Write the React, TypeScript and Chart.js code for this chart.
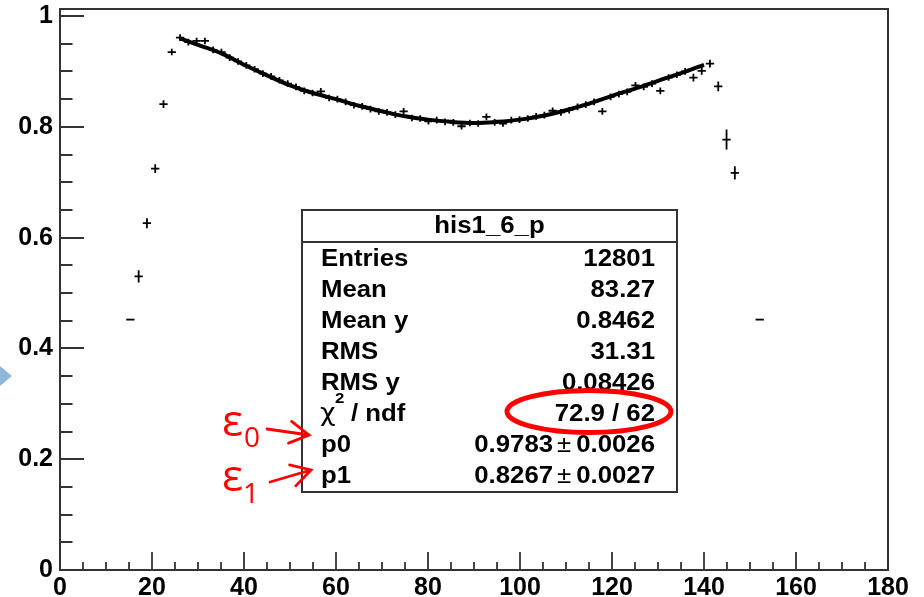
import React, { useEffect, useRef } from 'react';
import { Chart, registerables } from 'chart.js';

Chart.register(...registerables);

// ---- data (bin centres of 1.8-wide bins) ----
const binCenters = [
  15.3, 17.1, 18.9, 20.7, 22.5, 24.3,
  26.1, 27.9, 29.7, 31.5, 33.3, 35.1, 36.9, 38.7, 40.5, 42.3, 44.1, 45.9, 47.7, 49.5,
  51.3, 53.1, 54.9, 56.7, 58.5, 60.3, 62.1, 63.9, 65.7, 67.5, 69.3, 71.1, 72.9, 74.7,
  76.5, 78.3, 80.1, 81.9, 83.7, 85.5, 87.3, 89.1, 90.9, 92.7, 94.5, 96.3, 98.1, 99.9,
  101.7, 103.5, 105.3, 107.1, 108.9, 110.7, 112.5, 114.3, 116.1, 117.9, 119.7, 121.5,
  123.3, 125.1, 126.9, 128.7, 130.5, 132.3, 134.1, 135.9, 137.7, 139.5,
  141.3, 143.1, 144.9, 146.7, 152.1,
];
const efficiency = [
  0.452, 0.530, 0.626, 0.7245, 0.841, 0.935,
  0.961, 0.953, 0.955, 0.955, 0.939, 0.935, 0.925, 0.918, 0.911, 0.904, 0.896, 0.891, 0.884, 0.878,
  0.872, 0.865, 0.861, 0.864, 0.852, 0.850, 0.845, 0.839, 0.837, 0.832, 0.828, 0.826, 0.822, 0.828,
  0.816, 0.815, 0.810, 0.812, 0.809, 0.808, 0.801, 0.807, 0.806, 0.818, 0.808, 0.806, 0.812, 0.813,
  0.815, 0.819, 0.821, 0.829, 0.826, 0.830, 0.836, 0.840, 0.845, 0.828, 0.854, 0.859,
  0.863, 0.875, 0.872, 0.878, 0.865, 0.889, 0.894, 0.900, 0.889, 0.901,
  0.914, 0.873, 0.777, 0.717, 0.452,
];
const efficiencyErr = [
  0, 0.011, 0.009, 0.008, 0.007, 0.006,
  0.006, 0.006, 0.006, 0.006, 0.006, 0.006, 0.006, 0.006, 0.006, 0.006, 0.006, 0.006, 0.006, 0.006,
  0.006, 0.006, 0.006, 0.006, 0.006, 0.006, 0.006, 0.006, 0.006, 0.006, 0.006, 0.006, 0.006, 0.006,
  0.006, 0.006, 0.006, 0.006, 0.006, 0.006, 0.006, 0.006, 0.006, 0.006, 0.006, 0.006, 0.006, 0.006,
  0.006, 0.006, 0.006, 0.006, 0.006, 0.006, 0.006, 0.006, 0.006, 0.006, 0.006, 0.006,
  0.006, 0.006, 0.006, 0.006, 0.006, 0.006, 0.006, 0.006, 0.007, 0.007,
  0.007, 0.009, 0.018, 0.012, 0,
];
const binHalfWidth = 0.9;

const fitX = [26, 30, 35, 40, 45, 50, 55, 60, 65, 70, 75, 80, 85, 90, 95, 100, 105, 110, 115, 120, 125, 130, 135, 140];
const fitY = [0.960, 0.948, 0.933, 0.912, 0.893, 0.875, 0.861, 0.850, 0.838, 0.828, 0.819, 0.813, 0.809, 0.807, 0.809, 0.813, 0.820, 0.830, 0.842, 0.856, 0.869, 0.883, 0.897, 0.912];

const X_MIN = 0;
const X_MAX = 180;
const Y_MIN = 0;
const Y_MAX = 1.0127;
const xMajorTicks = [0, 20, 40, 60, 80, 100, 120, 140, 160, 180];
const xTickLabels = ['0', '20', '40', '60', '80', '100', '120', '140', '160', '180'];
const yMajorTicks = [0, 0.2, 0.4, 0.6, 0.8, 1.0];
const yTickLabels = ['0', '0.2', '0.4', '0.6', '0.8', '1'];

const statsTitle = 'his1_6_p';
const statLabels = ['Entries', 'Mean', 'Mean y', 'RMS', 'RMS y', 'χ² / ndf', 'p0', 'p1'];
const statValues = ['12801', '83.27', '0.8462', '31.31', '0.08426', '72.9 / 62', '0.9783 ± 0.0026', '0.8267 ± 0.0027'];
const paramNames = ['ε', 'ε'];
const paramSubs = ['0', '1'];

const FONT = "'Liberation Sans', Arial, Helvetica, sans-serif";
const SX = 1.12;

function txt(ctx: CanvasRenderingContext2D, s: string, x: number, y: number, font: string, align: CanvasTextAlign) {
  ctx.save();
  ctx.font = font;
  ctx.translate(x, y);
  ctx.scale(SX, 1);
  ctx.textAlign = align;
  ctx.textBaseline = 'alphabetic';
  ctx.fillText(s, 0, 0);
  ctx.restore();
}
function tw(ctx: CanvasRenderingContext2D, s: string, font: string) {
  ctx.save();
  ctx.font = font;
  const w = ctx.measureText(s).width * SX;
  ctx.restore();
  return w;
}

function arrow(ctx: CanvasRenderingContext2D, x0: number, y0: number, x1: number, y1: number) {
  const a = Math.atan2(y1 - y0, x1 - x0);
  const hl = 22;
  const ha = 0.52;
  ctx.beginPath();
  ctx.moveTo(x0, y0);
  ctx.lineTo(x1, y1);
  ctx.moveTo(x1 - hl * Math.cos(a - ha), y1 - hl * Math.sin(a - ha));
  ctx.lineTo(x1, y1);
  ctx.lineTo(x1 - hl * Math.cos(a + ha), y1 - hl * Math.sin(a + ha));
  ctx.stroke();
}

const rootPlugin = {
  id: 'rootStyle',
  afterDatasetsDraw(chart: any) {
    const { ctx, chartArea, scales } = chart;
    const xs = scales.x;
    const ys = scales.y;
    // error-bar crosses
    const ds = chart.data.datasets[1];
    ctx.save();
    ctx.strokeStyle = '#000';
    ctx.lineWidth = 1.8;
    ds.data.forEach((p: any) => {
      const px = xs.getPixelForValue(p.x);
      const py = ys.getPixelForValue(p.y);
      ctx.beginPath();
      ctx.moveTo(xs.getPixelForValue(p.x - binHalfWidth), py);
      ctx.lineTo(xs.getPixelForValue(p.x + binHalfWidth), py);
      if (p.err > 0) {
        ctx.moveTo(px, ys.getPixelForValue(p.y - p.err));
        ctx.lineTo(px, ys.getPixelForValue(p.y + p.err));
      }
      ctx.stroke();
    });
    ctx.restore();

    // frame and inward ticks
    const { left, right, top, bottom } = chartArea;
    ctx.save();
    ctx.strokeStyle = '#333';
    ctx.lineWidth = 2;
    ctx.strokeRect(left, top, right - left, bottom - top);
    ctx.lineWidth = 1.8;
    ctx.beginPath();
    for (let i = 0; i <= 20; i++) {
      const v = i * 0.05;
      const major = i % 4 === 0;
      const py = Math.round(ys.getPixelForValue(v));
      ctx.moveTo(left, py);
      ctx.lineTo(left + (major ? 24 : 12.5), py);
    }
    for (let i = 0; i <= 36; i++) {
      const v = i * 5;
      const major = i % 4 === 0;
      const px = Math.round(xs.getPixelForValue(v));
      ctx.moveTo(px, bottom);
      ctx.lineTo(px, bottom - (major ? 18 : 8));
    }
    ctx.stroke();
    ctx.restore();
  },
  afterDraw(chart: any) {
    const { ctx } = chart;
    ctx.save();
    // stats box
    const bx = 302, by = 210, bw = 375, bh = 282;
    ctx.fillStyle = '#fff';
    ctx.fillRect(bx, by, bw, bh);
    ctx.strokeStyle = '#333';
    ctx.lineWidth = 2;
    ctx.strokeRect(bx, by, bw, bh);
    ctx.beginPath();
    ctx.moveTo(bx, 242);
    ctx.lineTo(bx + bw, 242);
    ctx.stroke();
    ctx.fillStyle = '#000';
    const bold = `bold 23px ${FONT}`;
    const norm = `23px ${FONT}`;
    txt(ctx, statsTitle, bx + bw / 2, 232.5, bold, 'center');
    const lx = 321, rx = 655;
    statLabels.forEach((lab, i) => {
      const base = 265.7 + 31 * i;
      if (lab.startsWith('χ')) {
        txt(ctx, 'χ', lx - 1, base, `24px 'DejaVu Sans', ${FONT}`, 'left');
        txt(ctx, '2', 335, base - 18, `bold 15px ${FONT}`, 'left');
        txt(ctx, '/ ndf', 351, base, bold, 'left');
      } else {
        txt(ctx, lab, lx, base, bold, 'left');
      }
      const val = statValues[i];
      if (val.includes('±')) {
        const [a, b] = val.split(' ± ');
        txt(ctx, b, rx, base, bold, 'right');
        const wb = tw(ctx, b, bold);
        const pmR = rx - wb - 5;
        txt(ctx, '±', pmR, base, norm, 'right');
        const wpm = tw(ctx, '±', norm);
        txt(ctx, a, pmR - wpm - 4, base, bold, 'right');
      } else {
        txt(ctx, val, rx, base, bold, 'right');
      }
    });

    // red ellipse around chi2/ndf
    ctx.strokeStyle = '#ff0000';
    ctx.lineWidth = 5;
    ctx.beginPath();
    ctx.ellipse(589, 411.5, 82, 21, 0, 0, Math.PI * 2);
    ctx.stroke();

    // epsilon annotations
    ctx.fillStyle = '#ff0000';
    ctx.font = `44px 'Open Sans', 'DejaVu Sans', sans-serif`;
    ctx.textAlign = 'left';
    ctx.textBaseline = 'alphabetic';
    ctx.fillText(paramNames[0], 222, 436);
    ctx.fillText(paramNames[1], 222, 491);
    ctx.font = `28px 'Open Sans', 'DejaVu Sans', sans-serif`;
    ctx.fillText(paramSubs[0], 244, 447);
    ctx.fillText(paramSubs[1], 243, 503);
    ctx.lineWidth = 2.8;
    ctx.strokeStyle = '#ff0000';
    ctx.lineCap = 'round';
    arrow(ctx, 267, 429, 309, 435);
    arrow(ctx, 270, 482, 311, 470);

    // blue slide marker
    ctx.fillStyle = '#8fb6d9';
    ctx.beginPath();
    ctx.moveTo(0, 366);
    ctx.lineTo(12, 376);
    ctx.lineTo(0, 386);
    ctx.closePath();
    ctx.fill();
    ctx.restore();
  },
};

export default function App() {
  const ref = useRef<HTMLCanvasElement | null>(null);
  useEffect(() => {
    if (!ref.current) return;
    const chart = new Chart(ref.current, {
      type: 'scatter',
      data: {
        datasets: [
          {
            label: 'fit',
            type: 'line',
            data: fitX.map((x, i) => ({ x, y: fitY[i] })),
            borderColor: '#000',
            borderWidth: 4,
            pointRadius: 0,
            tension: 0.35,
            fill: false,
          } as any,
          {
            label: 'his1_6_p',
            data: binCenters.map((x, i) => ({ x, y: efficiency[i], err: efficiencyErr[i] })),
            pointRadius: 0,
            pointHoverRadius: 0,
            showLine: false,
          } as any,
        ],
      },
      options: {
        animation: false,
        responsive: false,
        devicePixelRatio: 1,
        events: [],
        layout: { padding: { top: 9, right: 36, left: 0, bottom: 0 }, autoPadding: false },
        plugins: { legend: { display: false }, tooltip: { enabled: false }, title: { display: false } },
        scales: {
          x: {
            type: 'linear',
            min: X_MIN,
            max: X_MAX,
            grid: { display: false, drawTicks: false },
            border: { display: false },
            afterBuildTicks: (s: any) => { s.ticks = xMajorTicks.map((v) => ({ value: v })); },
            ticks: {
              color: '#000',
              font: { family: FONT, size: 25, weight: 'bold' },
              padding: 3,
              maxRotation: 0,
              autoSkip: false,
              callback: (_v: any, i: number) => xTickLabels[i],
            },
            afterFit: (s: any) => { s.height = 27; s.paddingLeft = 0; s.paddingRight = 0; },
          },
          y: {
            type: 'linear',
            min: Y_MIN,
            max: Y_MAX,
            grid: { display: false, drawTicks: false },
            border: { display: false },
            afterBuildTicks: (s: any) => { s.ticks = yMajorTicks.map((v) => ({ value: v })); },
            ticks: {
              color: '#000',
              font: { family: FONT, size: 25, weight: 'bold' },
              padding: 7,
              autoSkip: false,
              callback: (_v: any, i: number) => yTickLabels[i],
            },
            afterFit: (s: any) => { s.width = 60; s.paddingTop = 0; s.paddingBottom = 0; },
          },
        },
      } as any,
      plugins: [rootPlugin],
    });
    return () => chart.destroy();
  }, []);
  return (
    <div style={{ position: 'fixed', left: 0, top: 0, width: 924, height: 597, background: '#fff' }}>
      <canvas ref={ref} width={924} height={597} style={{ display: 'block', width: 924, height: 597 }} />
    </div>
  );
}
